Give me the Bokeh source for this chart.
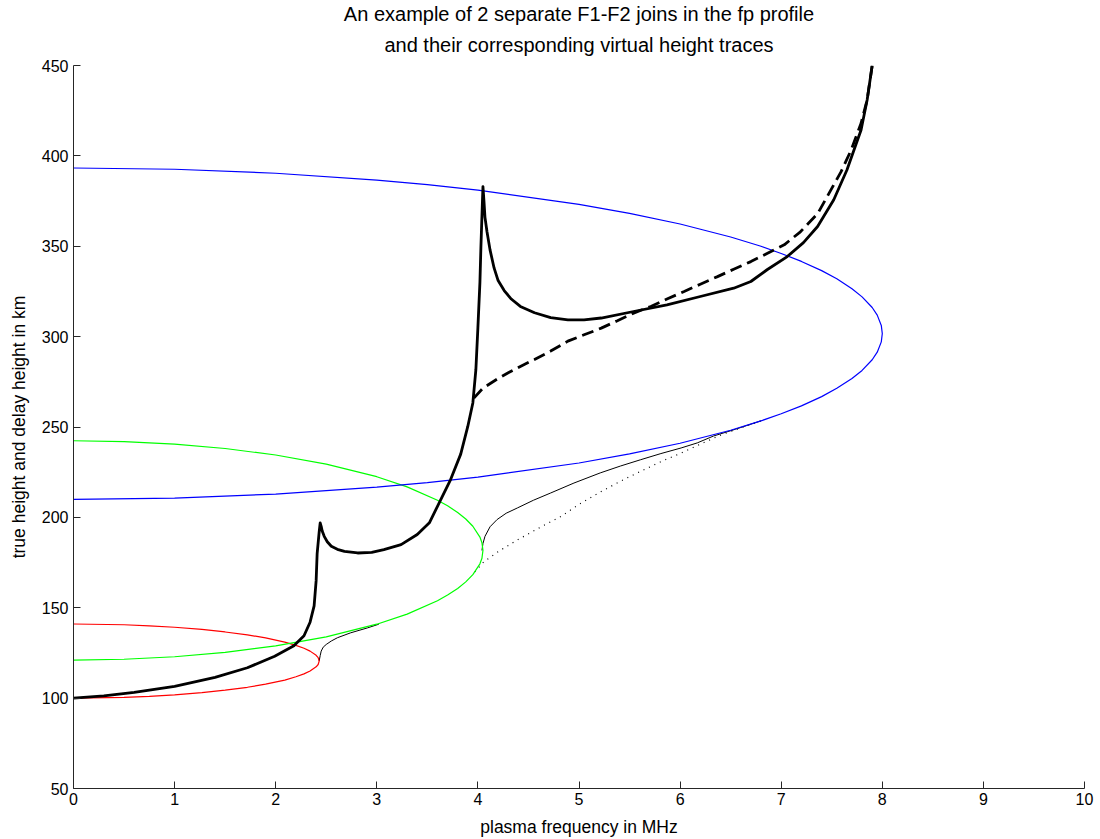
from bokeh.plotting import figure
from bokeh.models import Range1d, FixedTicker, Title
from bokeh.embed import file_html
from bokeh.resources import INLINE

# Parabolic layers: plasma frequency (MHz) vs true height (km)
e_layer_f = [0.00, 0.50, 0.75, 1.00, 1.27, 1.50, 1.72, 1.90, 2.09, 2.20, 2.28, 2.34, 2.40, 2.42, 2.43,
             2.42, 2.40, 2.34, 2.28, 2.20, 2.09, 1.90, 1.72, 1.50, 1.27, 1.00, 0.75, 0.50, 0.00]
e_layer_h = [100.0, 100.4, 101.0, 101.8, 103.0, 104.4, 106.0, 107.7, 110.0, 111.8, 113.4, 115.0, 117.3, 118.6, 120.5,
             122.4, 123.7, 126.0, 127.6, 129.2, 131.0, 133.3, 135.0, 136.6, 138.0, 139.2, 140.0, 140.6, 141.0]

f1_layer_f = [0.0, 0.5, 1.0, 1.5, 2.0, 2.5, 3.0, 3.3, 3.6, 3.7, 3.8, 3.88, 3.95, 4.02, 4.04, 4.05,
              4.04, 4.02, 3.95, 3.88, 3.8, 3.7, 3.6, 3.3, 3.0, 2.5, 2.0, 1.5, 1.0, 0.5, 0.0]
f1_layer_h = [121.0, 121.5, 122.9, 125.3, 128.9, 133.9, 140.9, 146.5, 153.9, 157.0, 160.7, 164.3, 168.3, 174.3, 177.4, 181.7,
              186.0, 189.1, 195.1, 199.1, 202.7, 206.4, 209.5, 216.9, 222.5, 229.5, 234.5, 238.1, 240.5, 241.9, 242.4]

f2_layer_f = [0.0, 1.0, 2.0, 3.0, 3.5, 4.0, 5.0, 5.5, 6.0, 6.5, 6.8, 7.0, 7.2, 7.4, 7.55, 7.7, 7.8, 7.9, 7.95, 7.99, 8.0,
              7.99, 7.95, 7.9, 7.8, 7.7, 7.55, 7.4, 7.2, 7.0, 6.8, 6.5, 6.0, 5.5, 5.0, 4.0, 3.5, 3.0, 2.0, 1.0, 0.0]
f2_layer_h = [210.0, 210.7, 212.9, 216.7, 219.2, 222.3, 230.1, 235.1, 241.0, 248.2, 253.4, 257.3, 261.7, 266.8, 271.4, 276.8,
              281.3, 287.2, 291.4, 297.1, 301.7,
              306.2, 311.9, 316.1, 322.0, 326.5, 332.0, 336.5, 341.6, 346.0, 350.0, 355.1, 362.3, 368.2, 373.2, 381.0,
              384.1, 386.6, 390.4, 392.6, 393.3]

# E-F1 join of the fp profile
join_e_f1_f = [2.43, 2.44, 2.45, 2.47, 2.50, 2.55, 2.61, 2.74, 2.91, 3.02]
join_e_f1_h = [120.5, 123.5, 126.0, 128.2, 129.7, 131.6, 133.4, 136.1, 138.9, 140.9]

# First F1-F2 join (solid)
join_a_f = [4.04, 4.05, 4.07, 4.12, 4.19, 4.28, 4.39, 4.55, 4.72, 4.95, 5.21, 5.41,
            5.61, 5.81, 6.01, 6.17, 6.33, 6.55, 6.80]
join_a_h = [181.7, 185.5, 189.5, 194.8, 198.8, 202.3, 205.2, 209.5, 213.5, 219.0, 224.6, 228.4,
            231.9, 235.3, 238.4, 241.2, 245.0, 248.8, 253.4]

# Second F1-F2 join (dotted)
join_b_f = [3.97, 4.06, 4.20, 4.39, 4.60, 4.82, 5.01, 5.21, 5.41, 5.61, 5.81, 6.01,
            6.20, 6.40, 6.60, 6.80]
join_b_h = [169.8, 175.5, 181.0, 187.5, 194.0, 200.5, 207.5, 214.0, 220.0, 225.5, 230.8, 235.6,
            240.5, 245.5, 249.5, 253.4]

# Virtual height trace for the solid profile
trace_a_f = [0.00, 0.30, 0.60, 1.00, 1.40, 1.72, 1.99, 2.18, 2.28, 2.34, 2.38, 2.40, 2.41, 2.43,
             2.44, 2.45, 2.46, 2.48, 2.51, 2.55, 2.61, 2.68, 2.81, 2.95, 3.07, 3.24, 3.40, 3.52,
             3.60, 3.73, 3.83, 3.90, 3.95, 3.98, 4.00, 4.02, 4.03, 4.045, 4.05, 4.06, 4.07, 4.09,
             4.12, 4.16, 4.20, 4.26, 4.33, 4.42, 4.56, 4.72, 4.89, 5.05, 5.22, 5.54, 5.87, 6.20,
             6.53, 6.70, 6.86, 7.06, 7.22, 7.36, 7.52, 7.65, 7.79, 7.85, 7.90]
trace_a_h = [100.0, 101.3, 103.2, 106.5, 111.5, 116.8, 123.2, 129.0, 134.5, 142.0, 151.0, 165.0, 180.0, 192.0,
             196.9, 195.0, 192.5, 189.5, 186.5, 184.0, 182.3, 181.2, 180.3, 180.6, 182.2, 184.9, 190.5, 197.0,
             206.1, 220.9, 235.0, 250.3, 263.3, 281.7, 305.0, 330.0, 350.0, 375.0, 383.0, 375.0, 366.0, 358.0,
             348.0, 338.0, 331.0, 325.5, 320.8, 316.7, 313.2, 310.5, 309.3, 309.3, 310.3, 313.9, 317.6, 322.2,
             326.8, 330.5, 337.0, 344.3, 352.0, 360.9, 375.7, 392.2, 414.3, 430.9, 450.0]

# Virtual height trace for the dotted profile
trace_b_f = [3.96, 4.05, 4.19, 4.30, 4.42, 4.56, 4.72, 4.89, 5.05, 5.22, 5.38, 5.54, 5.71, 5.87, 6.04,
             6.20, 6.37, 6.53, 6.70, 6.86, 7.03, 7.19, 7.36, 7.46, 7.52, 7.59, 7.69, 7.79, 7.85, 7.90]
trace_b_h = [266.0, 271.5, 276.5, 280.0, 283.5, 287.4, 292.0, 297.5, 301.0, 304.7, 308.8, 313.0, 316.7, 320.8, 325.0,
             329.0, 333.2, 337.3, 341.5, 346.0, 350.8, 358.0, 368.0, 378.0, 384.0, 391.0, 403.0, 418.0, 431.0, 450.0]

title_lines = ["An example of 2 separate F1-F2 joins in the fp profile",
               "and their corresponding virtual height traces"]

x_ticks = [0, 1, 2, 3, 4, 5, 6, 7, 8, 9, 10]
y_ticks = [50, 100, 150, 200, 250, 300, 350, 400, 450]

FONT = "Liberation Sans"

p = figure(width=1100, height=839, output_backend="svg", toolbar_location=None,
           x_range=Range1d(0, 10), y_range=Range1d(50, 450),
           min_border_left=73, min_border_right=16, min_border_top=65, min_border_bottom=50)
p.outline_line_color = None
p.grid.visible = False
p.background_fill_color = "white"
p.border_fill_color = "white"

# two centred title lines; the later one is stacked further from the frame
p.add_layout(Title(text=title_lines[1], align="center", text_font=FONT, text_font_size="20px",
                   text_font_style="normal", text_color="black", standoff=19), "above")
p.add_layout(Title(text=title_lines[0], align="center", text_font=FONT, text_font_size="20px",
                   text_font_style="normal", text_color="black", standoff=-4), "above")

for ax in (p.xaxis[0], p.yaxis[0]):
    ax.major_tick_in = 7
    ax.major_tick_out = 0
    ax.minor_tick_line_color = None
    ax.axis_line_color = "#262626"
    ax.major_tick_line_color = "#262626"
    ax.major_label_text_font = FONT
    ax.major_label_text_font_size = "16px"
    ax.major_label_text_color = "black"
    ax.axis_label_text_font = FONT
    ax.axis_label_text_font_size = "17.5px"
    ax.axis_label_text_font_style = "normal"
    ax.axis_label_text_color = "black"

p.xaxis.ticker = FixedTicker(ticks=x_ticks)
p.yaxis.ticker = FixedTicker(ticks=y_ticks)
p.xaxis.axis_label = "plasma frequency in MHz"
p.yaxis.axis_label = "true height and delay height in km"
p.xaxis.major_label_standoff = 4
p.yaxis.major_label_standoff = 5
p.xaxis.axis_label_standoff = 9
p.yaxis.axis_label_standoff = 10

# profile joins (thin black)
p.line(join_e_f1_f, join_e_f1_h, line_color="black", line_width=1)
p.line(join_a_f, join_a_h, line_color="black", line_width=1)
p.line(join_b_f, join_b_h, line_color="black", line_width=1.2, line_dash="1 5")

# layers
p.line(e_layer_f, e_layer_h, line_color="#ff0000", line_width=1.2)
p.line(f1_layer_f, f1_layer_h, line_color="#00ff00", line_width=1.2)
p.line(f2_layer_f, f2_layer_h, line_color="#0000ff", line_width=1.2)

# virtual height traces (thick)
p.line(trace_a_f, trace_a_h, line_color="black", line_width=2.8, line_join="round")
p.line(trace_b_f, trace_b_h, line_color="black", line_width=2.8, line_dash="12 6")

open("out.html", "w").write(file_html(p, INLINE))
